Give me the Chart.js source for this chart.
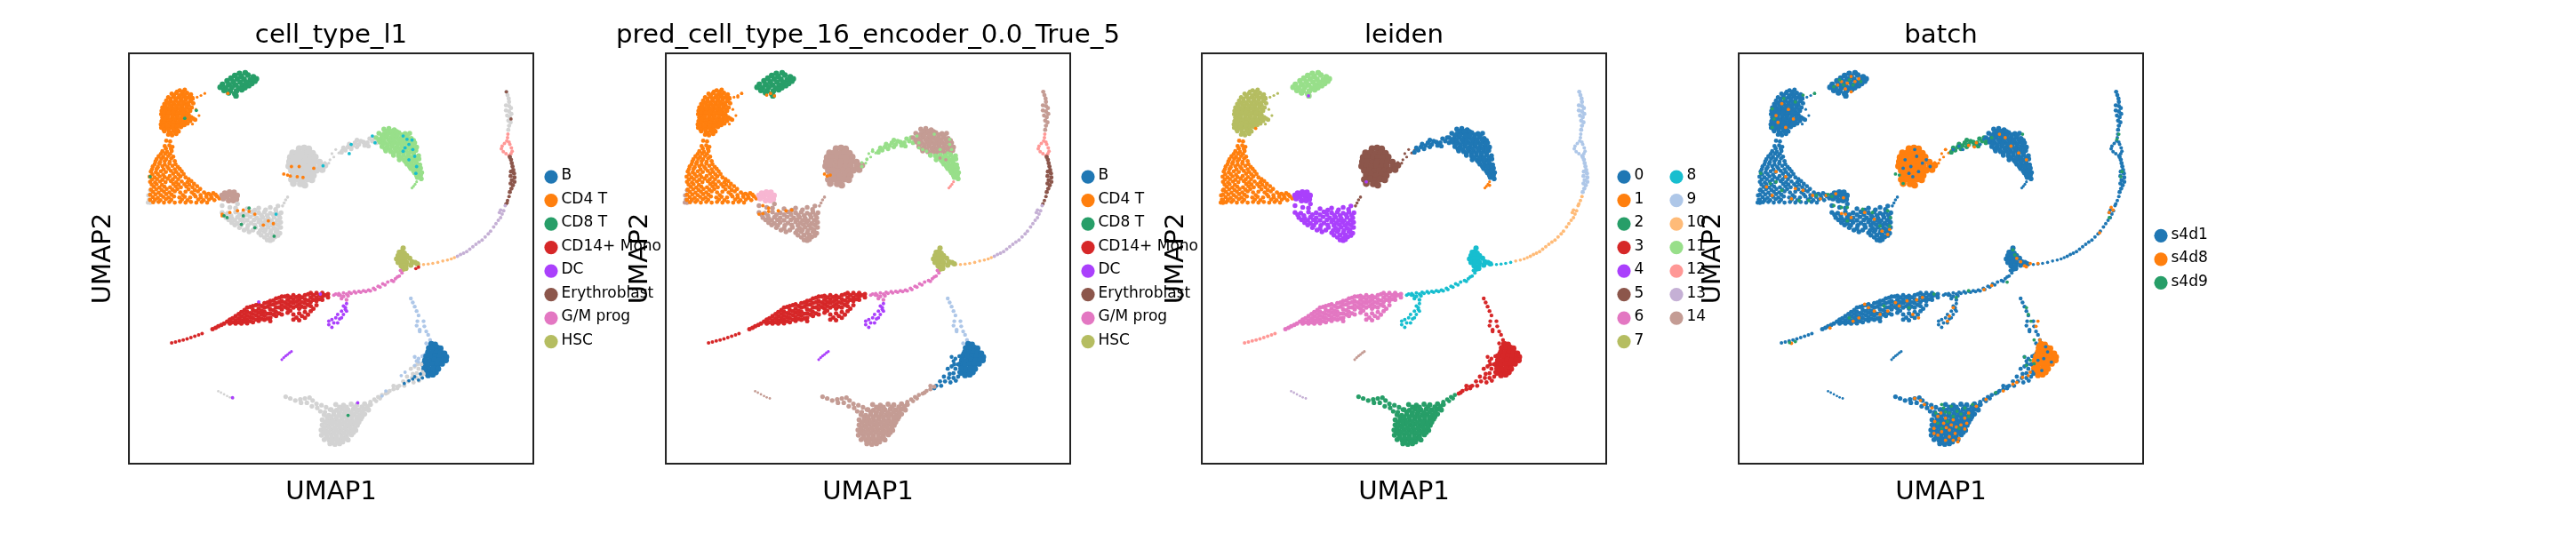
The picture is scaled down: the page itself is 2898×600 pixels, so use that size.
<!DOCTYPE html>
<html>
<head>
<meta charset="utf-8">
<script src="https://cdn.jsdelivr.net/npm/chart.js@4"></script>
<style>
  html, body { margin:0; padding:0; background:#fff; width:2898px; height:600px; overflow:hidden; }
  canvas { position:absolute; top:0; }
</style>
</head>
<body>
<script>
// legend + titles
const panelTitles = ["cell_type_l1", "pred_cell_type_16_encoder_0.0_True_5", "leiden", "batch"];
const cellTypes = ["B", "CD4 T", "CD8 T", "CD14+ Mono", "DC", "Erythroblast", "G/M prog", "HSC"];
const leidenIds = ["0","1","2","3","4","5","6","7","8","9","10","11","12","13","14"];
const batchIds = ["s4d1", "s4d8", "s4d9"];

// UMAP positions, one list per cell group
const cd8Blob = [[390,216],[405,214],[378,222],[395,225],[412,221],[426,226],[434,232],[368,230],[384,232],[402,233],[418,235],[430,239],[358,238],[374,241],[392,242],[408,243],[422,246],[346,248],[362,249],[380,250],[398,251],[414,252],[340,257],[354,259],[370,257],[388,259],[404,258],[350,266],[366,267],[382,268],[396,264],[362,273],[378,276],[381,282]];
const cd4Top = [[235,266],[248,264],[214,276],[226,274],[240,277],[254,273],[264,278],[205,286],[218,284],[231,287],[245,284],[258,286],[268,288],[200,296],[212,298],[225,295],[238,297],[250,294],[262,298],[195,306],[208,308],[220,305],[233,307],[246,305],[258,309],[270,304],[190,316],[203,318],[215,315],[228,318],[241,315],[253,317],[266,316],[188,326],[200,328],[212,325],[225,327],[238,324],[250,328],[262,326],[187,336],[198,338],[210,335],[223,338],[236,335],[247,337],[258,338],[190,346],[203,348],[215,345],[228,347],[240,346],[252,348],[265,345],[275,352],[188,356],[200,358],[212,355],[225,358],[238,356],[250,358],[262,356],[186,366],[197,368],[210,365],[222,367],[235,365],[247,368],[187,376],[199,378],[212,375],[224,378],[238,374],[195,386],[207,388],[220,385],[232,387],[205,396],[215,398],[226,394]];
const cd4TopFill = [[228,270],[243,270],[220,280],[234,281],[248,279],[260,282],[211,291],[224,290],[238,291],[252,289],[265,293],[204,301],[218,301],[231,302],[244,300],[256,303],[198,311],[212,311],[226,312],[239,310],[252,311],[196,321],[209,322],[221,321],[234,320],[247,322],[259,321],[193,331],[206,332],[218,330],[231,331],[244,332],[255,333],[194,341],[204,342],[217,341],[229,342],[242,341],[254,342],[196,351],[209,352],[221,351],[234,352],[246,352],[258,351],[270,349],[193,361],[206,362],[218,361],[230,361],[243,362],[255,363],[192,371],[204,372],[217,371],[229,372],[241,369],[193,381],[206,382],[218,381],[229,382],[212,391],[224,391]];
const cd4TopTail = [[270,292],[280,286],[290,281],[300,275],[277,322],[285,340],[268,365]];
const cd4Triangle = [[200,414],[210,416],[196,430],[208,428],[216,432],[190,445],[202,447],[214,444],[180,460],[192,462],[205,459],[218,461],[172,475],[184,477],[196,474],[209,476],[222,474],[165,490],[178,492],[190,489],[203,491],[216,488],[230,491],[160,505],[173,507],[186,504],[199,506],[212,503],[226,506],[240,504],[157,520],[170,522],[183,519],[196,521],[209,518],[223,521],[237,519],[250,522],[158,535],[171,537],[184,534],[198,536],[212,533],[226,536],[240,534],[255,536],[265,533],[168,550],[182,552],[195,549],[210,551],[224,548],[238,551],[252,549],[268,551],[280,548],[166,565],[180,567],[194,564],[208,566],[222,563],[236,566],[250,564],[266,566],[282,563],[298,566],[310,570],[322,568],[165,580],[178,582],[192,579],[206,581],[220,578],[234,581],[248,579],[262,581],[276,578],[290,581],[304,579],[318,582],[332,578],[166,595],[180,594],[194,596],[208,594],[222,596],[236,594],[250,596],[264,594],[278,596],[292,594],[306,596]];
const cd4TriangleFill = [[199,437],[212,438],[186,453],[197,452],[210,453],[175,468],[187,467],[200,468],[213,466],[170,483],[182,482],[196,484],[208,481],[224,483],[163,498],[175,497],[193,498],[206,496],[222,498],[235,497],[164,513],[178,512],[192,514],[218,511],[232,513],[245,512],[163,528],[176,527],[190,529],[204,526],[217,528],[231,527],[258,527],[162,543],[175,542],[189,544],[218,541],[232,543],[247,542],[260,544],[272,541],[160,558],[174,557],[188,559],[201,556],[216,558],[229,556],[258,557],[274,559],[288,556],[158,573],[172,572],[186,574],[200,571],[214,573],[243,574],[272,572],[289,574],[304,572],[316,575],[328,573],[158,588],[171,587],[185,589],[199,586],[213,588],[241,587],[255,589],[283,587],[297,589],[311,587],[325,589],[338,584]];
const cd4Corner = [[153,575],[155,588],[158,597],[170,590],[152,596],[158,560]];
const node14 = [[345,575],[352,568],[364,565],[376,566],[384,575],[358,578],[372,578],[348,584],[382,586],[362,590],[374,590],[368,572]];
const lowerBlob = [[345,605],[365,610],[385,600],[380,612],[410,614],[440,612],[470,610],[490,606],[345,625],[360,627],[380,624],[400,626],[420,623],[440,626],[455,624],[470,627],[485,624],[498,626],[355,640],[370,642],[385,639],[400,641],[418,638],[435,641],[450,639],[465,642],[480,639],[495,641],[370,655],[385,657],[400,654],[420,656],[440,653],[452,656],[468,654],[482,657],[497,654],[390,670],[410,672],[432,669],[450,671],[465,668],[480,671],[497,669],[415,682],[440,685],[455,682],[470,685],[485,682],[495,686],[455,698],[470,701],[482,697],[470,708]];
const lowerFill = [[352,632],[368,634],[390,632],[410,632],[428,631],[447,633],[462,634],[478,632],[492,633],[362,647],[378,648],[393,647],[410,648],[428,647],[444,647],[458,648],[473,649],[488,648],[378,662],[394,663],[412,663],[430,662],[446,663],[460,661],[475,663],[490,662],[402,677],[425,677],[444,678],[458,676],[472,678],[488,676],[446,692],[462,692],[476,691],[490,693],[462,706],[476,705],[430,618],[458,617],[484,616]];
const lowerTail = [[515,580],[510,588],[506,597],[502,606]];
const greyBlob = [[545,437],[558,435],[570,438],[528,450],[541,449],[554,452],[567,449],[580,451],[522,463],[535,462],[548,465],[561,462],[574,464],[587,462],[520,476],[533,475],[546,478],[559,475],[572,477],[585,475],[598,477],[518,489],[531,488],[544,491],[557,488],[570,490],[583,488],[600,489],[612,486],[525,502],[538,501],[551,504],[564,501],[577,503],[590,501],[605,499],[530,515],[543,514],[556,517],[569,514],[582,516],[525,528],[540,527],[553,530],[566,527],[578,529],[530,540],[548,541],[560,545]];
const bridgeSparse = [[625,470],[635,462],[612,478],[640,440],[648,450],[655,442],[622,480],[630,452]];
const bridge = [[660,435],[672,432],[684,428],[690,420],[700,425],[712,418],[722,420],[735,415],[705,415],[680,438],[695,432],[728,408],[745,420],[665,442],[675,424],[715,428],[695,412],[655,448],[725,430],[740,405]];
const leafUpper = [[765,380],[778,378],[792,382],[752,392],[765,394],[778,391],[791,393],[804,390],[820,393],[832,392],[745,405],[758,407],[771,404],[784,406],[797,403],[810,406],[823,404],[836,407],[755,418],[768,420],[781,417],[794,419],[807,416],[820,419],[833,417],[845,420],[760,431],[773,433],[786,430],[799,432],[812,429],[825,432],[838,430],[850,433],[770,444],[783,446],[796,443],[809,445],[822,442],[835,445],[848,443]];
const leafUpperFill = [[772,386],[785,386],[798,387],[812,397],[826,398],[760,399],[774,398],[787,399],[800,398],[752,412],[765,412],[778,411],[791,412],[804,411],[817,412],[830,411],[842,413],[762,425],[775,426],[788,424],[801,425],[814,424],[827,425],[840,424],[768,438],[781,439],[794,437],[807,438],[820,437],[833,438],[845,437],[790,450],[803,451],[816,450],[829,451],[842,450]];
const leafLower = [[790,457],[803,459],[816,456],[829,458],[842,455],[855,458],[805,470],[818,472],[831,469],[844,471],[856,468],[825,483],[838,485],[850,482],[858,485],[835,496],[848,498],[860,495],[845,509],[855,511],[863,508],[852,522],[862,526],[810,464],[823,464],[836,464],[849,464],[822,477],[835,477],[848,477],[832,490],[845,490],[856,490],[842,503],[855,503],[850,516],[860,516]];
const leafTail = [[850,535],[846,542],[842,548],[838,553]];
const streamTop = [[1083,270],[1086,280],[1089,290],[1090,300],[1082,310],[1090,312],[1095,318],[1082,325],[1090,328],[1096,335],[1085,340],[1092,345],[1088,355],[1094,360],[1090,370],[1088,382]];
const streamLoop = [[1087,395],[1086,405],[1084,415],[1090,418],[1078,422],[1072,430],[1070,438],[1075,446],[1082,452],[1090,458],[1096,435],[1098,445],[1092,425],[1095,452]];
const streamBrown = [[1092,462],[1095,470],[1097,480],[1099,490],[1101,500],[1095,505],[1103,510],[1094,518],[1104,522],[1097,530],[1104,535],[1094,540],[1100,545],[1096,555],[1092,565]];
const streamBrownLow = [[1090,578],[1086,590],[1082,600]];
const streamLilac = [[1080,605],[1068,618],[1076,620],[1072,630],[1065,625],[1068,640],[1062,648],[1056,658],[1050,668],[1042,680],[1036,688],[1028,697],[1020,706],[1012,712],[1004,719],[996,726],[988,733],[980,740],[972,745],[964,749],[956,754]];
const streamPeach = [[948,758],[940,762],[930,765],[918,768]];
const streamPeachLow = [[905,772],[892,775],[880,777],[868,778],[856,778]];
const hscBlob = [[815,730],[812,740],[805,742],[818,745],[802,752],[812,752],[824,752],[798,762],[808,762],[820,762],[832,760],[802,772],[812,772],[824,772],[838,770],[846,772],[810,782],[822,782],[835,780],[815,792],[822,790],[852,776]];
const gmStem = [[808,796],[812,803],[805,812],[795,820],[800,815],[785,825],[790,828],[775,830],[762,835],[768,838],[750,842],[755,845],[738,848],[742,852],[725,853],[730,856],[712,855],[718,858],[700,857],[705,860],[688,858],[692,862],[675,860],[680,863],[660,862],[668,865],[648,864],[652,868],[635,868],[640,865]];
const monoBody = [[320,968],[335,960],[350,952],[365,940],[365,952],[380,930],[380,942],[380,952],[395,918],[395,930],[395,942],[395,952],[410,905],[410,917],[410,929],[410,941],[410,951],[425,900],[425,912],[425,924],[425,936],[425,948],[440,895],[440,908],[440,920],[440,932],[440,944],[455,892],[455,905],[455,917],[455,929],[455,941],[470,885],[470,897],[470,910],[470,922],[470,935],[470,945],[485,878],[485,892],[485,905],[485,918],[485,930],[500,872],[500,885],[500,898],[500,910],[500,925],[515,870],[515,882],[515,895],[515,908],[515,920],[530,868],[530,880],[530,892],[530,905],[530,925],[530,940],[545,870],[545,882],[545,895],[545,908],[545,922],[545,942],[560,868],[560,880],[560,892],[560,905],[560,918],[560,935],[575,862],[575,875],[575,888],[575,900],[575,915],[590,862],[590,875],[590,885],[590,898],[605,862],[605,872],[605,882],[620,865],[620,875]];
const monoFill = [[328,964],[343,956],[358,946],[372,936],[372,948],[388,924],[388,937],[388,948],[403,912],[403,924],[403,936],[403,947],[418,903],[418,921],[418,933],[418,945],[433,898],[433,915],[433,927],[433,940],[448,900],[448,914],[448,926],[448,938],[463,890],[463,902],[463,923],[463,937],[478,884],[478,896],[478,913],[478,926],[493,876],[493,889],[493,904],[493,922],[508,872],[508,890],[508,903],[522,875],[522,888],[522,900],[522,914],[538,874],[538,887],[538,900],[538,934],[552,875],[552,889],[552,902],[552,930],[568,866],[568,884],[568,897],[568,926],[582,868],[582,882],[582,908],[598,868],[598,880],[612,868]];
const monoTail = [[214,1009],[224,1006],[234,1003],[244,1000],[254,997],[264,993],[274,989],[284,985],[293,981]];
const dcTop = [[648,868],[660,872],[672,870],[655,878],[668,882]];
const dcBranch = [[668,893],[660,900],[665,910],[655,915],[645,925],[660,925],[640,935],[650,938],[630,940],[622,945],[635,950],[622,955],[630,963],[645,950],[655,935],[665,905],[668,915]];
const dcSmall = [[500,1058],[505,1052],[510,1047],[515,1043],[520,1038],[525,1034]];
const sliver = [[335,1151],[342,1155],[350,1160],[358,1165],[365,1169],[373,1172]];
const bStream = [[835,878],[840,890],[845,902],[850,915],[855,928],[852,945],[850,958],[858,970],[870,960],[868,945],[875,975],[880,985],[885,1000],[875,1010],[885,1015],[880,1030],[870,1045],[858,975]];
const bPale = [[845,1050],[855,1055],[865,1048],[875,1040],[872,1055],[850,1062],[868,1068],[880,1022]];
const bBlob = [[888,1012],[898,1014],[882,1024],[893,1026],[904,1023],[912,1025],[880,1036],[891,1038],[902,1035],[913,1037],[922,1040],[875,1048],[887,1050],[899,1047],[910,1049],[921,1046],[927,1050],[872,1060],[884,1062],[896,1059],[908,1061],[920,1058],[926,1060],[868,1072],[880,1074],[892,1071],[904,1073],[916,1070],[870,1084],[882,1086],[894,1083],[906,1085],[875,1096],[888,1098],[900,1095],[880,1104],[892,1102]];
const bMid = [[835,1085],[845,1078],[855,1085],[865,1095],[840,1100],[850,1098],[825,1108],[838,1112],[850,1112],[862,1108],[815,1122],[828,1122],[842,1125],[856,1120],[805,1135],[818,1135],[800,1142],[868,1100],[852,1072],[862,1072]];
const armRight = [[800,1138],[790,1145],[780,1150],[770,1158],[775,1155],[790,1135]];
const armLeft = [[760,1162],[750,1168],[740,1175],[730,1182],[755,1172],[745,1180]];
const bowlLeft = [[510,1167],[522,1172],[535,1178],[548,1175],[560,1172],[572,1170],[550,1185],[565,1185],[580,1178],[590,1188],[578,1195],[592,1200],[603,1192],[615,1198],[600,1210],[612,1212],[625,1205]];
const bowl = [[640,1190],[660,1192],[680,1189],[695,1191],[715,1188],[730,1190],[628,1205],[642,1207],[657,1204],[672,1206],[686,1203],[700,1206],[714,1204],[725,1206],[610,1220],[622,1222],[635,1219],[648,1221],[662,1218],[675,1221],[688,1219],[702,1221],[715,1218],[605,1235],[618,1237],[630,1234],[643,1236],[656,1233],[669,1236],[682,1234],[695,1236],[705,1233],[605,1250],[618,1252],[631,1249],[644,1251],[657,1248],[670,1251],[683,1249],[696,1251],[602,1265],[615,1267],[628,1264],[641,1266],[654,1263],[667,1266],[680,1264],[692,1266],[603,1280],[616,1282],[629,1279],[642,1281],[655,1278],[668,1281],[681,1279],[610,1293],[623,1295],[636,1292],[649,1294],[662,1291],[672,1294],[625,1305],[638,1307],[650,1305]];
const bowlFill = [[650,1198],[668,1198],[690,1197],[708,1197],[722,1196],[635,1212],[650,1213],[665,1212],[680,1213],[694,1212],[708,1212],[618,1228],[628,1227],[642,1228],[655,1226],[668,1228],[682,1227],[695,1228],[708,1226],[612,1243],[625,1242],[637,1243],[650,1241],[663,1243],[676,1242],[689,1243],[700,1242],[610,1258],[623,1257],[637,1258],[650,1256],[664,1258],[677,1257],[690,1258],[609,1273],[622,1272],[635,1273],[648,1271],[661,1273],[674,1272],[686,1272],[616,1288],[629,1287],[642,1288],[655,1286],[668,1288],[630,1300],[644,1300],[658,1300]];

// stray cells of another colour, on top of the groups
const typeCyan = [[815,400],[825,410],[838,412],[830,425],[820,435],[840,440],[815,445],[845,460],[830,470],[850,490],[848,510],[735,400],[742,420],[680,425],[675,452],[607,488],[485,630]];
const typeOrange = [[505,512],[515,515],[522,518],[540,520],[555,522],[525,490],[545,490],[583,495],[345,630],[365,625],[385,620],[400,618],[415,622],[430,630],[345,635],[465,650],[478,658],[452,662],[360,275]];
const typeGreen = [[350,635],[358,640],[395,660],[400,635],[430,670],[415,612],[480,695],[248,348],[278,325],[158,520],[672,1222]];
const typePurple = [[440,888],[600,865],[697,1185],[372,1170]];
const typeBrown = [[1095,350],[1083,270],[1085,597],[1092,462]];
const typeRed = [[848,790],[855,786]];
const typeBlue = [[830,1120],[845,1108],[860,1100],[818,1128],[872,1085],[865,1112],[855,1118],[840,1115],[880,1090]];
const typePale = [[760,1165],[770,1150],[820,1095],[810,1105],[845,1075],[855,1065]];
const predOrange = [[515,512],[522,518],[530,515],[345,630],[355,628],[370,622],[395,620],[415,620],[430,618],[355,605],[370,612],[365,280],[375,275],[385,282],[300,275],[290,285]];
const predLeaf = [[780,445],[760,435],[655,445],[640,445],[625,468],[612,490],[755,400],[760,420],[800,395],[840,410],[845,440],[770,440],[815,440],[835,450],[840,425]];
const predRose = [[830,470],[815,465]];
const leidenPurple = [[380,282],[530,535]];
const leidenOrange = [[243,378],[850,545]];
const batchBlue = [[535,470],[550,490],[565,460],[570,505],[555,520],[580,480],[545,510],[590,470],[560,440],[530,495],[600,490],[660,440],[685,440],[740,410],[730,425],[675,430],[895,1055],[905,1035],[880,1060],[915,1065],[890,1090],[900,1020]];
const batchOrange = [[370,240],[385,245],[395,225],[405,240],[380,262],[360,250],[415,232],[395,270],[215,305],[232,322],[205,360],[245,350],[225,375],[200,340],[200,505],[225,520],[250,555],[270,560],[295,575],[190,575],[240,585],[315,585],[330,575],[175,550],[355,570],[375,582],[395,640],[430,625],[455,645],[475,680],[495,675],[370,628],[490,690],[380,630],[795,405],[810,430],[830,450],[850,470],[780,395],[1070,610],[1075,618],[1065,625],[1040,685],[860,775],[850,785],[880,775],[835,770],[825,760],[845,782],[760,840],[740,852],[440,905],[455,915],[470,925],[510,890],[520,900],[540,885],[555,925],[570,935],[580,875],[415,935],[400,945],[240,1010],[340,965],[565,882],[490,915],[430,895],[650,930],[645,945],[660,905],[885,1000],[880,1015],[860,1095],[840,1110],[825,1125],[855,1105],[875,960],[880,945],[560,1172],[575,1178],[585,1190],[605,1200],[620,1225],[635,1245],[650,1265],[620,1280],[640,1295],[665,1275],[680,1250],[660,1235],[690,1230],[610,1260],[630,1270],[650,1285],[700,1215],[720,1195],[745,1175],[790,1150],[815,1130],[672,1300],[700,428],[720,420],[715,432],[640,440],[628,1215],[642,1258],[668,1256],[690,1262],[610,1275],[655,1250],[675,1290],[612,1240],[695,1245],[640,1230],[660,1295]];
const batchGreen = [[375,250],[350,255],[400,250],[420,240],[365,235],[390,235],[190,320],[195,350],[220,290],[250,300],[270,280],[300,275],[190,375],[160,510],[200,535],[215,560],[260,590],[285,590],[185,540],[305,575],[335,572],[345,578],[350,605],[370,610],[385,610],[490,620],[497,640],[495,665],[450,625],[425,615],[385,650],[470,665],[840,395],[760,405],[745,415],[1085,410],[1090,395],[1095,520],[1098,505],[1065,640],[815,735],[820,750],[800,830],[700,855],[668,875],[390,935],[480,900],[250,1005],[235,1008],[545,905],[610,865],[850,905],[855,925],[862,945],[870,1000],[845,1050],[860,1060],[850,1075],[870,1070],[630,1190],[650,1215],[670,1210],[690,1200],[645,1240],[620,1245],[660,1225],[700,1225],[630,1260],[675,1260],[710,1190],[770,1155],[510,512],[520,515],[530,540],[635,1200],[655,1195],[680,1218],[615,1215],[640,1212]];

const C = {blue:"#1f77b4", orange:"#ff7f0e", green:"#279e68", red:"#d62728", purple:"#aa40fc", brown:"#8c564b", pink:"#e377c2", olive:"#b5bd61", cyan:"#17becf", pale:"#aec7e8", peach:"#ffbb78", leaf:"#98df8a", rose:"#ff9896", lilac:"#c5b0d5", tan:"#c49c94", blush:"#f7b6d2", grey:"#d3d3d3"};

// group, dot radius, colour in panels 1-4
const groups = [
  [cd8Blob,3.2,C.green,C.green,C.leaf,C.blue],
  [cd4Top,2.5,C.orange,C.orange,C.olive,C.blue],
  [cd4TopFill,2.5,C.orange,C.orange,C.olive,C.blue],
  [cd4TopTail,1.6,C.orange,C.orange,C.olive,C.blue],
  [cd4Corner,2.4,C.grey,C.tan,C.orange,C.blue],
  [cd4Triangle,2.4,C.orange,C.orange,C.orange,C.blue],
  [cd4TriangleFill,2.4,C.orange,C.orange,C.orange,C.blue],
  [node14,3.2,C.tan,C.blush,C.purple,C.blue],
  [lowerBlob,2.7,C.grey,C.tan,C.purple,C.blue],
  [lowerFill,2.7,C.grey,C.tan,C.purple,C.blue],
  [lowerTail,1.8,C.grey,C.tan,C.brown,C.blue],
  [greyBlob,3.8,C.grey,C.tan,C.brown,C.orange],
  [bridgeSparse,1.6,C.grey,C.leaf,C.brown,C.orange],
  [bridge,2.6,C.grey,C.leaf,C.blue,C.green],
  [leafUpper,2.8,C.leaf,C.tan,C.blue,C.blue],
  [leafUpperFill,2.8,C.leaf,C.tan,C.blue,C.blue],
  [leafLower,2.8,C.leaf,C.leaf,C.blue,C.blue],
  [leafTail,1.6,C.leaf,C.rose,C.orange,C.blue],
  [streamTop,2.4,C.grey,C.tan,C.pale,C.blue],
  [streamLoop,2,C.rose,C.rose,C.pale,C.blue],
  [streamBrown,2.4,C.brown,C.brown,C.pale,C.blue],
  [streamBrownLow,2,C.brown,C.brown,C.peach,C.blue],
  [streamLilac,2,C.lilac,C.lilac,C.peach,C.blue],
  [streamPeach,1.8,C.peach,C.peach,C.peach,C.blue],
  [streamPeachLow,1.8,C.peach,C.peach,C.cyan,C.blue],
  [hscBlob,3,C.olive,C.olive,C.cyan,C.blue],
  [gmStem,2,C.pink,C.pink,C.cyan,C.blue],
  [monoBody,2.5,C.red,C.red,C.pink,C.blue],
  [monoFill,2.5,C.red,C.red,C.pink,C.blue],
  [monoTail,2,C.red,C.red,C.rose,C.blue],
  [dcTop,2.2,C.pink,C.pink,C.cyan,C.blue],
  [dcBranch,2,C.purple,C.purple,C.cyan,C.blue],
  [dcSmall,1.6,C.purple,C.purple,C.tan,C.blue],
  [sliver,1.4,C.grey,C.tan,C.lilac,C.blue],
  [bStream,2.2,C.pale,C.pale,C.red,C.blue],
  [bPale,2.2,C.pale,C.blue,C.red,C.blue],
  [bBlob,3.4,C.blue,C.blue,C.red,C.orange],
  [bMid,2.4,C.grey,C.blue,C.red,C.blue],
  [armRight,2.4,C.grey,C.tan,C.red,C.blue],
  [armLeft,2.4,C.grey,C.tan,C.green,C.blue],
  [bowlLeft,2.6,C.grey,C.tan,C.green,C.blue],
  [bowl,2.9,C.grey,C.tan,C.green,C.blue],
  [bowlFill,2.9,C.grey,C.tan,C.green,C.blue]
];
const strays = [
  [[typeCyan,C.cyan],[typeOrange,C.orange],[typeGreen,C.green],[typePurple,C.purple],[typeBrown,C.brown],[typeRed,C.red],[typeBlue,C.blue],[typePale,C.pale]],
  [[predOrange,C.orange],[predLeaf,C.leaf],[predRose,C.tan]],
  [[leidenPurple,C.purple],[leidenOrange,C.orange]],
  [[batchBlue,C.blue],[batchOrange,C.orange],[batchGreen,C.green]]
];
const legends = [
  {names:cellTypes, colors:[C.blue,C.orange,C.green,C.red,C.purple,C.brown,C.pink,C.olive], rows:8},
  {names:cellTypes, colors:[C.blue,C.orange,C.green,C.red,C.purple,C.brown,C.pink,C.olive], rows:8},
  {names:leidenIds, colors:[C.blue,C.orange,C.green,C.red,C.purple,C.brown,C.pink,C.olive,C.cyan,C.pale,C.peach,C.leaf,C.rose,C.lilac,C.tan], rows:8},
  {names:batchIds, colors:[C.blue,C.orange,C.green], rows:3}
];

const panelLeft = [145, 749, 1352, 1956];
const panelWidth = 455, side = 290;
const labelFont = {family: "DejaVu Sans", size: 29.2, weight: "normal"};

const framePlugin = {
  id: "frame",
  afterDatasetsDraw(chart) {
    const {ctx, chartArea: a} = chart;
    ctx.save();
    ctx.strokeStyle = "#222";
    ctx.lineWidth = 2;
    ctx.strokeRect(a.left, a.top, a.right - a.left, a.bottom - a.top);
    ctx.restore();
  }
};
const sideLegend = {
  id: "sideLegend",
  afterDraw(chart, args, opts) {
    const {ctx, chartArea: a} = chart;
    const {names, colors, rows} = opts.entry;
    const midY = (a.top + a.bottom) / 2 + 0.8;
    ctx.save();
    ctx.font = "17px 'DejaVu Sans'";
    ctx.textBaseline = "middle";
    names.forEach((name, i) => {
      const col = Math.floor(i / rows), row = i % rows;
      const x = a.right + 20 + col * 59;
      const y = midY + (row - (rows - 1) / 2) * 26.5;
      ctx.fillStyle = colors[i];
      ctx.beginPath();
      ctx.arc(x, y, 7.6, 0, Math.PI * 2);
      ctx.fill();
      ctx.fillStyle = "#000";
      ctx.fillText(name, x + 11.5, y - 1);
    });
    ctx.restore();
  }
};

panelTitles.forEach((title, p) => {
  const canvas = document.createElement("canvas");
  canvas.width = panelWidth + side * 2;
  canvas.height = 600;
  canvas.style.left = (panelLeft[p] - side) + "px";
  document.body.appendChild(canvas);

  const datasets = groups.map(g => ({data: g[0], backgroundColor: g[2 + p], pointRadius: g[1]}));
  strays[p].forEach(s => datasets.push({data: s[0], backgroundColor: s[1], pointRadius: 1.9}));
  datasets.reverse(); // chart.js paints the first dataset last

  new Chart(canvas, {
    type: "scatter",
    data: {datasets},
    plugins: [framePlugin, sideLegend],
    options: {
      responsive: false,
      animation: false,
      layout: {autoPadding: false, padding: {left: side - 80, right: side - 80, top: 0, bottom: 0}},
      elements: {point: {borderWidth: 0}},
      scales: {
        x: {
          min: 103, max: 1153,
          grid: {display: false, drawTicks: false},
          border: {display: false},
          ticks: {display: false},
          title: {display: true, text: "UMAP1", color: "#000", font: labelFont, padding: {top: 15, bottom: 28}}
        },
        y: {
          min: 157, max: 1364, reverse: true,
          grid: {display: false, drawTicks: false},
          border: {display: false},
          ticks: {display: false},
          title: {display: true, text: "UMAP2", color: "#000", font: labelFont, padding: {top: 34, bottom: 11}}
        },
        // empty axis on the right so the title centres over the frame
        yRight: {
          position: "right",
          grid: {display: false, drawTicks: false},
          border: {display: false},
          ticks: {display: false},
          afterFit(scale) { scale.width = 80; }
        }
      },
      plugins: {
        legend: {display: false},
        tooltip: {enabled: false},
        title: {display: true, text: title, color: "#000", font: labelFont, padding: {top: 22.5, bottom: 2.5}},
        sideLegend: {entry: legends[p]}
      }
    }
  });
});
</script>
</body>
</html>
